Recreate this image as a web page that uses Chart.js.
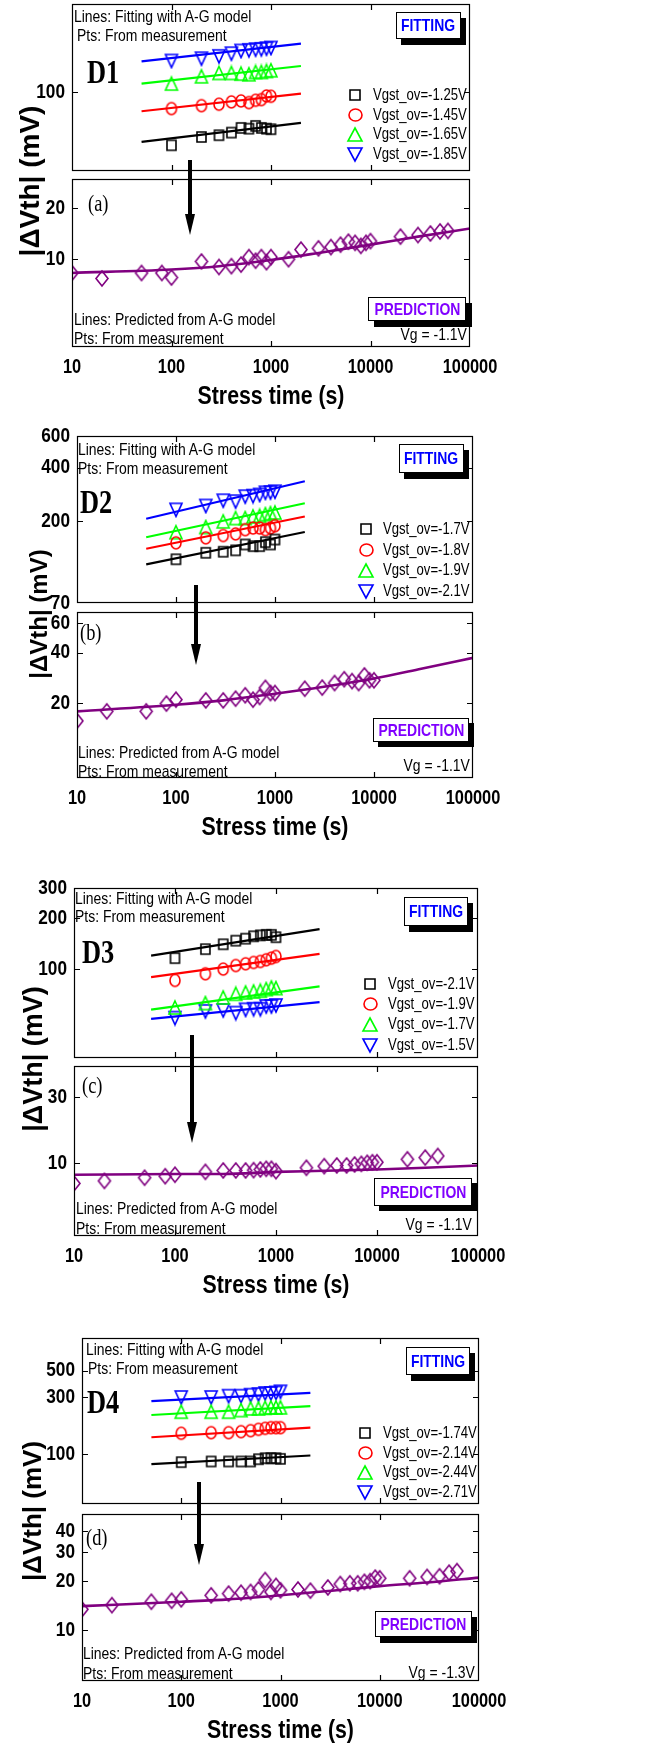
<!DOCTYPE html>
<html><head><meta charset="utf-8">
<script src="https://cdn.jsdelivr.net/npm/chart.js@4.4.1/dist/chart.umd.min.js"></script>
<style>
html,body{margin:0;padding:0;background:#fff;}
body{width:670px;height:1747px;position:relative;overflow:hidden;}
.t{position:absolute;white-space:nowrap;line-height:1;color:#000;font-family:'Liberation Sans',Arial,sans-serif;}
.n{font-size:17px;}
.lg{font-size:16px;}
.box{position:absolute;background:#fff;border:1px solid #000;box-sizing:border-box;display:flex;align-items:center;justify-content:center;font-family:'Liberation Sans',Arial,sans-serif;font-weight:bold;font-size:17px;line-height:1;}
.box span{display:inline-block;transform:scaleX(0.82);white-space:nowrap;}
.yt{position:absolute;white-space:nowrap;font-family:'Liberation Sans',Arial,sans-serif;font-weight:bold;line-height:1;transform:translate(-50%,-50%) rotate(-90deg);}
</style></head><body>
<script>
// ---------------- DATA ----------------
const xTicks = [10, 100, 1000, 10000, 100000];
const stressTimes = [100, 200, 300, 400, 500, 600, 700, 800, 900, 1000];
const fitEnds = [50, 2000];
const fitEndsD3 = [58, 2700];
const curveTimes = [10, 100, 300, 1000, 3000, 10000, 30000, 100000];

// D1
const d1Labels = ['Vgst_ov=-1.25V', 'Vgst_ov=-1.45V', 'Vgst_ov=-1.65V', 'Vgst_ov=-1.85V'];
const d1Black = [48.4, 54.2, 55.5, 57.5, 61.3, 60.7, 63.0, 61.3, 60.7, 60.2];
const d1Red = [79.7, 83.0, 84.6, 87.3, 88.5, 86.5, 89.3, 90.1, 94.7, 94.3];
const d1Green = [112, 123.7, 129.5, 129.5, 128.3, 127.2, 131.3, 131.3, 133, 134.3];
const d1Blue = [152.4, 157.3, 162.4, 168.4, 174.6, 176.2, 177.8, 178.6, 180.3, 182];
const d1BlackFit = [50.7, 65.6];
const d1RedFit = [76.9, 97.8];
const d1GreenFit = [112, 142.4];
const d1BlueFit = [151.7, 193];
const d1PredTimes = [10, 20, 50, 80, 100, 200, 300, 400, 500, 600, 700, 800, 900, 1000, 1500, 2000, 3000, 4000, 5000, 6000, 7000, 8000, 9000, 10000, 20000, 30000, 40000, 50000, 60000];
const d1Pred = [8.3, 7.7, 8.3, 8.3, 7.8, 9.7, 9.0, 9.1, 9.3, 10.3, 9.8, 10.3, 9.6, 10.3, 10.0, 11.4, 11.6, 11.8, 12.2, 12.7, 12.5, 12.0, 12.5, 12.8, 13.6, 13.9, 14.2, 14.6, 14.7];
const d1Curve = [8.3, 8.7, 9.1, 9.9, 10.9, 12.2, 13.6, 15.2];
const d1TopTicks = [100];
const d1BotTicks = [10, 20];

// D2
const d2Labels = ['Vgst_ov=-1.7V', 'Vgst_ov=-1.8V', 'Vgst_ov=-1.9V', 'Vgst_ov=-2.1V'];
const d2Black = [122.8, 133.6, 135.4, 137.8, 148.6, 145.4, 145.4, 153.1, 148.6, 158.4];
const d2Red = [151.8, 161.9, 166.7, 170.3, 179.8, 183.7, 183.7, 179.8, 183.7, 189.2];
const d2Green = [174, 186, 200, 208.6, 208.6, 213.2, 215, 219.6, 222.4, 224.2];
const d2Blue = [232, 244, 261, 258, 275, 277, 281, 289, 290, 293];
const d2BlackFit = [115, 174.6];
const d2RedFit = [140.7, 213];
const d2GreenFit = [163, 252.6];
const d2BlueFit = [207, 335];
const d2PredTimes = [10, 20, 50, 80, 100, 200, 300, 400, 500, 600, 700, 800, 900, 1000, 2000, 3000, 4000, 5000, 6000, 7000, 8000, 9000, 10000];
const d2Pred = [15.6, 17.8, 17.8, 19.8, 20.9, 20.7, 20.7, 21.2, 22.2, 20.9, 21.7, 24.6, 22.9, 22.9, 24.3, 24.7, 26.3, 27.7, 27.0, 26.3, 29.2, 27.3, 27.3];
const d2Curve = [17.8, 19.5, 20.7, 22.7, 24.9, 28.0, 32.0, 37.2];
const d2TopTicks = [70, 200, 400, 600];
const d2BotTicks = [20, 40, 60];

// D3
const d3Labels = ['Vgst_ov=-2.1V', 'Vgst_ov=-1.9V', 'Vgst_ov=-1.7V', 'Vgst_ov=-1.5V'];
const d3Black = [116, 131, 140, 147, 151, 156, 158, 159, 159, 154];
const d3Red = [85.8, 93.9, 100, 105, 107.5, 109.4, 110.9, 113.5, 116, 118.7];
const d3Green = [59.5, 63.1, 68.1, 71.6, 72.9, 73.9, 74.6, 76.3, 78, 77.3];
const d3Blue = [51.5, 56.4, 57.1, 55.1, 57.6, 58.1, 58.1, 60.3, 60.3, 61.1];
const d3BlackFit = [120, 172];
const d3RedFit = [89.7, 123];
const d3GreenFit = [57.7, 79.1];
const d3BlueFit = [51, 63.9];
const d3PredTimes = [10, 20, 50, 80, 100, 200, 300, 400, 500, 600, 700, 800, 900, 1000, 2000, 3000, 4000, 5000, 6000, 7000, 8000, 9000, 10000, 20000, 30000, 40000];
const d3Pred = [7.1, 7.4, 7.8, 8.0, 8.2, 8.6, 8.8, 8.8, 8.8, 8.85, 8.95, 9.05, 9.05, 8.7, 9.2, 9.46, 9.56, 9.56, 9.72, 9.83, 10.0, 10.1, 10.1, 10.6, 10.9, 11.2];
const d3Curve = [8.2, 8.3, 8.3, 8.6, 8.75, 8.95, 9.2, 9.56];
const d3TopTicks = [100, 200, 300];
const d3BotTicks = [10, 30];

// D4
const d4Labels = ['Vgst_ov=-1.74V', 'Vgst_ov=-2.14V', 'Vgst_ov=-2.44V', 'Vgst_ov=-2.71V'];
const d4Black = [85.8, 86.9, 86.9, 86.9, 86.9, 90.8, 92.6, 92.6, 92.6, 91.4];
const d4Red = [149.6, 151.5, 151.5, 154.5, 157.5, 161.5, 164.7, 166.8, 166.8, 166.8];
const d4Green = [226.7, 226.7, 226.7, 234, 241.6, 241.6, 244.7, 246.4, 246.4, 246.4];
const d4Blue = [298.5, 298.5, 306, 306, 312, 316, 322.5, 322.5, 326, 333];
const d4BlackFit = [82.5, 97.5];
const d4RedFit = [138.6, 166.8];
const d4GreenFit = [212.8, 252.8];
const d4BlueFit = [278, 326];
const d4PredTimes = [10, 20, 50, 80, 100, 200, 300, 400, 500, 600, 700, 800, 900, 1000, 1500, 2000, 3000, 4000, 5000, 6000, 7000, 8000, 9000, 10000, 20000, 30000, 40000, 50000, 60000];
const d4Pred = [13.4, 14.2, 14.9, 15.1, 15.4, 16.3, 16.7, 16.9, 17.1, 17.7, 20.2, 17.1, 18.6, 17.5, 17.7, 17.4, 18.2, 19.1, 19.3, 19.3, 19.7, 19.9, 20.9, 20.7, 20.7, 21.1, 21.3, 22.4, 22.9];
const d4Curve = [14.0, 14.9, 15.4, 16.3, 17.3, 18.55, 19.5, 20.9];
const d4TopTicks = [100, 300, 500];
const d4BotTicks = [10, 20, 30, 40];

// ---------------- RENDER ----------------
const SANS = "'Liberation Sans', Arial, sans-serif";
const SQUEEZE = 0.82;
const PURPLE = '#800080';
const COLORS = ['#000000', '#ff0000', '#00ff00', '#0000ff'];
const SHAPES = ['square', 'circle', 'up', 'down'];
const MSIZE = {square: [9, 10], circle: [10, 12], up: [12, 13], down: [12, 13], diamond: [12, 15]};
const LSIZE = {square: [10, 10], circle: [13, 12], up: [14, 13], down: [14, 13]};

function marker(shape, color, w, h, lw) {
  const pad = 2;
  const c = document.createElement('canvas');
  c.width = Math.ceil(w + 2 * pad); c.height = Math.ceil(h + 2 * pad);
  const ctx = c.getContext('2d');
  ctx.strokeStyle = color; ctx.lineWidth = lw;
  const cx = c.width / 2, cy = c.height / 2;
  ctx.beginPath();
  if (shape === 'square') ctx.rect(cx - w / 2, cy - h / 2, w, h);
  else if (shape === 'circle') ctx.ellipse(cx, cy, w / 2, h / 2, 0, 0, Math.PI * 2);
  else if (shape === 'up') { ctx.moveTo(cx, cy - h / 2); ctx.lineTo(cx + w / 2, cy + h / 2); ctx.lineTo(cx - w / 2, cy + h / 2); ctx.closePath(); }
  else if (shape === 'down') { ctx.moveTo(cx - w / 2, cy - h / 2); ctx.lineTo(cx + w / 2, cy - h / 2); ctx.lineTo(cx, cy + h / 2); ctx.closePath(); }
  else if (shape === 'diamond') { ctx.moveTo(cx, cy - h / 2); ctx.lineTo(cx + w / 2, cy); ctx.lineTo(cx, cy + h / 2); ctx.lineTo(cx - w / 2, cy); ctx.closePath(); }
  ctx.stroke();
  return c;
}
const pts = (xs, ys) => xs.map((x, i) => ({x: x, y: ys[i]}));

function squeezedText(ctx, s, x, y) {
  ctx.save(); ctx.translate(x, y); ctx.scale(SQUEEZE, 1); ctx.fillText(s, 0, 0); ctx.restore();
}

function makeFramePlugin(isBottom) {
  return {
    id: 'frame',
    afterDraw(chart) {
      const {ctx, chartArea: a, scales} = chart;
      ctx.save();
      ctx.strokeStyle = '#000'; ctx.lineWidth = 1.2;
      ctx.strokeRect(a.left + 0.5, a.top + 0.5, a.right - a.left - 1, a.bottom - a.top - 1);
      ctx.beginPath();
      scales.x.ticks.forEach(t => {
        const p = Math.round(scales.x.getPixelForValue(t.value)) + 0.5;
        if (p < a.left + 2 || p > a.right - 2) return;
        ctx.moveTo(p, a.bottom); ctx.lineTo(p, a.bottom - 6);
        ctx.moveTo(p, a.top); ctx.lineTo(p, a.top + 6);
      });
      scales.y.ticks.forEach(t => {
        const p = Math.round(scales.y.getPixelForValue(t.value)) + 0.5;
        if (p < a.top + 2 || p > a.bottom - 2) return;
        ctx.moveTo(a.left, p); ctx.lineTo(a.left + 6, p);
        ctx.moveTo(a.right, p); ctx.lineTo(a.right - 6, p);
      });
      ctx.stroke();
      // tick labels placed by the library scales
      ctx.fillStyle = '#000';
      ctx.font = 'bold 21px ' + SANS;
      ctx.textBaseline = 'middle';
      ctx.textAlign = 'right';
      scales.y.ticks.forEach(t => {
        squeezedText(ctx, String(t.value), a.left - 7, scales.y.getPixelForValue(t.value));
      });
      if (isBottom) {
        ctx.textAlign = 'center';
        ctx.font = 'bold 20px ' + SANS;
        scales.x.ticks.forEach(t => {
          squeezedText(ctx, String(t.value), scales.x.getPixelForValue(t.value), a.bottom + 20);
        });
        ctx.font = 'bold 26px ' + SANS;
        squeezedText(ctx, 'Stress time (s)', (a.left + a.right) / 2, a.bottom + 50);
      }
      ctx.restore();
    }
  };
}

function buildChart(g, yMin, yMax, yTicks, datasets, isBottom) {
  const padTop = 15;
  const below = isBottom ? 80 : 15;
  const h = (g.bottom - g.top) + padTop + below;
  const cv = document.createElement('canvas');
  cv.width = 670; cv.height = h;
  cv.style.cssText = 'position:absolute;left:0;top:' + (g.top - padTop) + 'px;width:670px;height:' + h + 'px;';
  document.body.appendChild(cv);
  new Chart(cv, {
    type: 'scatter',
    data: {datasets: datasets},
    options: {
      responsive: false, animation: false, events: [], devicePixelRatio: 1,
      layout: {padding: {left: 0, right: 670 - g.right, top: padTop, bottom: below}},
      plugins: {legend: {display: false}, tooltip: {enabled: false}},
      scales: {
        x: {
          type: 'logarithmic', min: 10, max: 100000,
          afterBuildTicks: s => { s.ticks = xTicks.map(v => ({value: v})); },
          afterFit: s => { s.height = 0; },
          grid: {display: false, drawTicks: false}, border: {display: false},
          ticks: {display: false}
        },
        y: {
          type: 'logarithmic', min: yMin, max: yMax,
          afterBuildTicks: s => { s.ticks = yTicks.map(v => ({value: v})); },
          afterFit: s => { s.width = g.left; },
          grid: {display: false, drawTicks: false}, border: {display: false},
          ticks: {display: false}
        }
      }
    },
    plugins: [makeFramePlugin(isBottom)]
  });
}

function topSets(series, fits, lineT) {
  const ds = [];
  series.forEach((vals, i) => {
    const sh = SHAPES[i];
    ds.push({data: pts(stressTimes, vals), showLine: false, pointStyle: marker(sh, COLORS[i], MSIZE[sh][0], MSIZE[sh][1], 1.6), pointRadius: 5});
  });
  fits.forEach((f, i) => {
    ds.push({data: pts(lineT, f), showLine: true, borderColor: COLORS[i], borderWidth: 2.2, pointRadius: 0});
  });
  return ds;
}
function botSets(times, vals, curve) {
  return [
    {data: pts(times, vals), showLine: false, pointStyle: marker('diamond', PURPLE, MSIZE.diamond[0], MSIZE.diamond[1], 1.6), pointRadius: 5},
    {data: pts(curveTimes, curve), showLine: true, borderColor: PURPLE, borderWidth: 2.6, pointRadius: 0, cubicInterpolationMode: 'monotone'}
  ];
}

function txt(cls, s, x, y, extra) {
  const d = document.createElement('div');
  d.className = 't ' + cls;
  d.textContent = s;
  d.style.left = x + 'px'; d.style.top = y + 'px';
  d.style.transform = 'translateY(-50%) scaleX(' + SQUEEZE + ')';
  d.style.transformOrigin = 'left center';
  if (extra) Object.assign(d.style, extra);
  d.style.zIndex = 5;
  document.body.appendChild(d);
  return d;
}
function rtxt(cls, s, xr, y) {
  const d = txt(cls, s, 0, y);
  d.style.left = ''; d.style.right = (670 - xr) + 'px';
  d.style.transformOrigin = 'right center';
  return d;
}
function box(s, color, x1, x2, y1, y2, sx, sy) {
  const d = document.createElement('div');
  d.className = 'box'; d.style.color = color;
  const sp = document.createElement('span'); sp.textContent = s; d.appendChild(sp);
  d.style.left = x1 + 'px'; d.style.top = y1 + 'px';
  d.style.width = (x2 - x1) + 'px'; d.style.height = (y2 - y1) + 'px';
  d.style.boxShadow = sx + 'px ' + sy + 'px 0 #000';
  d.style.zIndex = 5;
  document.body.appendChild(d);
}
function ytitle(cx, cy, size) {
  const d = document.createElement('div');
  d.className = 'yt'; d.textContent = '|\u0394Vth| (mV)';
  d.style.left = cx + 'px'; d.style.top = cy + 'px'; d.style.fontSize = size + 'px';
  d.style.zIndex = 5;
  document.body.appendChild(d);
}
function legend(labels, mx, lx, rows) {
  labels.forEach((lab, i) => {
    const sh = SHAPES[i];
    const c = marker(sh, COLORS[i], LSIZE[sh][0], LSIZE[sh][1], 1.6);
    c.style.cssText = 'position:absolute;z-index:5;left:' + (mx - c.width / 2) + 'px;top:' + (rows[i] - c.height / 2) + 'px;';
    document.body.appendChild(c);
    txt('lg', lab, lx, rows[i]);
  });
}
function serif(s, x, y, size, bold) {
  txt('ser', s, x, y, {fontSize: size + 'px', fontWeight: bold ? 'bold' : 'normal', fontFamily: "'Liberation Serif','Times New Roman',serif", transform: 'translateY(-50%) scaleX(0.8)'});
}

const panels = [
  {L: 72, R: 470, top: [4, 171], bot: [179, 347], yTop: [34.1, 331], yBot: [3.03, 29.8],
   tt: d1TopTicks, bt: d1BotTicks, series: [d1Black, d1Red, d1Green, d1Blue], fits: [d1BlackFit, d1RedFit, d1GreenFit, d1BlueFit], lineT: fitEnds,
   pt: d1PredTimes, pv: d1Pred, cv: d1Curve},
  {L: 77, R: 473, top: [436, 603], bot: [612, 778], yTop: [70, 600], yBot: [7.1, 70],
   tt: d2TopTicks, bt: d2BotTicks, series: [d2Black, d2Red, d2Green, d2Blue], fits: [d2BlackFit, d2RedFit, d2GreenFit, d2BlueFit], lineT: fitEnds,
   pt: d2PredTimes, pv: d2Pred, cv: d2Curve},
  {L: 74, R: 478, top: [888, 1058], bot: [1066, 1236], yTop: [30, 300], yBot: [2.96, 50],
   tt: d3TopTicks, bt: d3BotTicks, series: [d3Black, d3Red, d3Green, d3Blue], fits: [d3BlackFit, d3RedFit, d3GreenFit, d3BlueFit], lineT: fitEndsD3,
   pt: d3PredTimes, pv: d3Pred, cv: d3Curve},
  {L: 82, R: 479, top: [1338, 1504], bot: [1514, 1681], yTop: [38.3, 939], yBot: [4.9, 51],
   tt: d4TopTicks, bt: d4BotTicks, series: [d4Black, d4Red, d4Green, d4Blue], fits: [d4BlackFit, d4RedFit, d4GreenFit, d4BlueFit], lineT: fitEnds,
   pt: d4PredTimes, pv: d4Pred, cv: d4Curve}
];

panels.forEach(p => {
  buildChart({left: p.L, right: p.R, top: p.top[0], bottom: p.top[1]}, p.yTop[0], p.yTop[1], p.tt, topSets(p.series, p.fits, p.lineT), false);
  buildChart({left: p.L, right: p.R, top: p.bot[0], bottom: p.bot[1]}, p.yBot[0], p.yBot[1], p.bt, botSets(p.pt, p.pv, p.cv), true);
});

// Annotations
const fitNote = 'Lines: Fitting with A-G model';
const predNote = 'Lines: Predicted from A-G model';
const ptsNote = 'Pts: From measurement';
const BLUE_T = '#0000ff', VIOLET_T = '#8000ff';

// D1
txt('n', fitNote, 74, 16); txt('n', ptsNote, 77, 35);
serif('D1', 87, 72, 33, true);
box('FITTING', BLUE_T, 396, 461, 12, 39, 5, 6);
legend(d1Labels, 355, 373, [95, 115, 134, 154]);
serif('(a)', 88, 203, 23, false);
txt('n', predNote, 74, 319); txt('n', ptsNote, 74, 338);
box('PREDICTION', VIOLET_T, 368, 466, 297, 321, 6, 6);
rtxt('n', 'Vg = -1.1V', 467, 334);
ytitle(30, 181, 28);

// D2
txt('n', fitNote, 78, 449); txt('n', ptsNote, 78, 468);
serif('D2', 80, 502, 33, true);
box('FITTING', BLUE_T, 399, 464, 444, 473, 5, 6);
legend(d2Labels, 366, 383, [529, 550, 570, 591]);
serif('(b)', 80, 632, 23, false);
txt('n', predNote, 78, 752); txt('n', ptsNote, 78, 771);
box('PREDICTION', VIOLET_T, 373, 469, 718, 742, 5, 5);
rtxt('n', 'Vg = -1.1V', 470, 765);
ytitle(39, 614, 24);

// D3
txt('n', fitNote, 75, 898); txt('n', ptsNote, 75, 916);
serif('D3', 82, 952, 33, true);
box('FITTING', BLUE_T, 404, 468, 897, 926, 5, 6);
legend(d3Labels, 370, 388, [984, 1004, 1024, 1045]);
serif('(c)', 82, 1085, 23, false);
txt('n', predNote, 76, 1208); txt('n', ptsNote, 76, 1228);
box('PREDICTION', VIOLET_T, 374, 472, 1178, 1206, 5, 5);
rtxt('n', 'Vg = -1.1V', 472, 1224);
ytitle(33, 1059, 27);

// D4
txt('n', fitNote, 86, 1349); txt('n', ptsNote, 88, 1368);
serif('D4', 87, 1402, 33, true);
box('FITTING', BLUE_T, 406, 470, 1347, 1375, 5, 6);
legend(d4Labels, 365, 383, [1433, 1453, 1472, 1492]);
serif('(d)', 86, 1537, 23, false);
txt('n', predNote, 83, 1653); txt('n', ptsNote, 83, 1673);
box('PREDICTION', VIOLET_T, 375, 472, 1611, 1637, 5, 6);
rtxt('n', 'Vg = -1.3V', 475, 1672);
ytitle(32, 1511, 26);

// Arrows (decoration)
const NS = 'http://www.w3.org/2000/svg';
const svg = document.createElementNS(NS, 'svg');
svg.setAttribute('width', 670); svg.setAttribute('height', 1747);
svg.style.cssText = 'position:absolute;left:0;top:0;z-index:6;pointer-events:none;';
[[190, 160, 235], [196, 585, 665], [192, 1035, 1143], [199, 1482, 1565]].forEach(a => {
  const [x, y1, y2] = a;
  const r = document.createElementNS(NS, 'rect');
  r.setAttribute('x', x - 2); r.setAttribute('y', y1); r.setAttribute('width', 4); r.setAttribute('height', y2 - y1 - 18);
  r.setAttribute('fill', '#000'); svg.appendChild(r);
  const pg = document.createElementNS(NS, 'polygon');
  pg.setAttribute('points', (x - 5) + ',' + (y2 - 21) + ' ' + (x + 5) + ',' + (y2 - 21) + ' ' + x + ',' + y2);
  pg.setAttribute('fill', '#000'); svg.appendChild(pg);
});
document.body.appendChild(svg);
</script>
</body></html>
